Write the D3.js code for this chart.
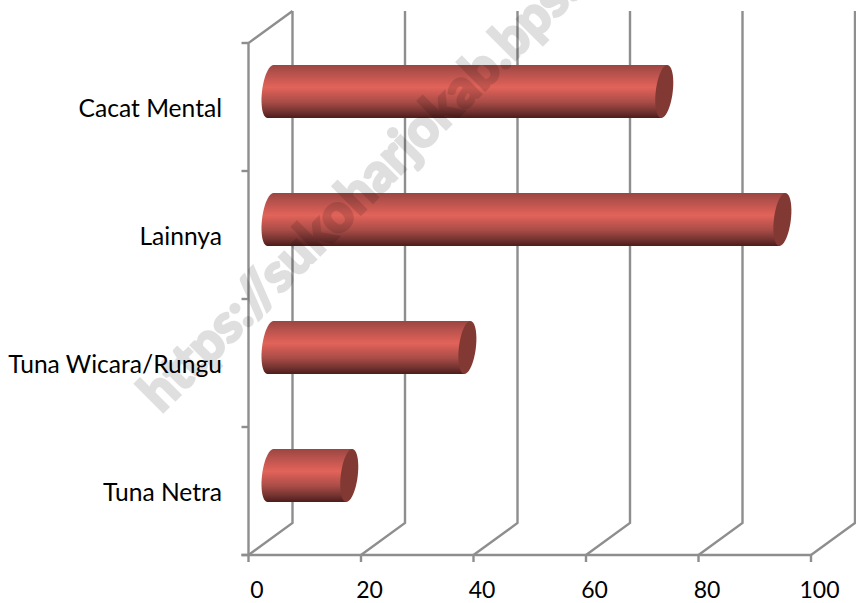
<!DOCTYPE html>
<html>
<head>
<meta charset="utf-8">
<script src="https://cdn.jsdelivr.net/npm/d3@7"></script>
<style>
    html, body { margin: 0; padding: 0; background: #fff; }
    svg { display: block; }
    text { font-family: Lato, "Open Sans", sans-serif; fill: #000; }
</style>
</head>
<body>
<div id="chart"></div>
<script>
const categories = ["Cacat Mental", "Lainnya", "Tuna Wicara/Rungu", "Tuna Netra"];
const values = [70, 91, 35, 14];
const xTicks = [0, 20, 40, 60, 80, 100];
const watermark = "https://sukoharjokab.bps.go.id";

const width = 856;
const height = 603;

// floor offset of the 3D box
const depthX = 44;
const depthY = -32;

const x = d3.scaleLinear().domain([0, 100]).range([248.5, 811]);
const y = d3.scaleBand().domain(categories).range([43, 555]);

const svg = d3.select("#chart").append("svg")
    .attr("width", width)
    .attr("height", height);

const grad = svg.append("defs").append("linearGradient")
    .attr("id", "tube")
    .attr("x1", 0).attr("y1", 0).attr("x2", 0).attr("y2", 1);
grad.selectAll("stop")
    .data([[0, "#9c4540"], [0.12, "#b04f4a"], [0.42, "#e2635a"], [0.7, "#a94c47"], [0.88, "#733230"], [1, "#4c1d1b"]])
    .enter().append("stop")
    .attr("offset", d => d[0])
    .attr("stop-color", d => d[1]);

// grid: back wall lines + floor lines
const grid = svg.append("g")
    .attr("stroke", "#8e8e8e")
    .attr("stroke-width", 2.4)
    .attr("fill", "none");

grid.selectAll(".wall")
    .data(xTicks)
    .enter().append("path")
    .attr("class", "wall")
    .attr("d", d => `M${x(d)},${y.range()[1]}L${x(d) + depthX},${y.range()[1] + depthY}V${y.range()[0] + depthY}`);

// side wall and front axes
grid.append("path")
    .attr("d", `M${x(0)},${y.range()[1]}V${y.range()[0]}L${x(0) + depthX},${y.range()[0] + depthY}`);
grid.append("path")
    .attr("d", `M${x(0) - 7},${y.range()[1]}H${x(100)}`);

const yEdges = categories.map(c => y(c)).concat(y.range()[1]);
grid.selectAll(".ytick")
    .data(yEdges)
    .enter().append("line")
    .attr("class", "ytick")
    .attr("x1", x(0) - 7).attr("x2", x(0))
    .attr("y1", d => d).attr("y2", d => d);
grid.selectAll(".xtick")
    .data(xTicks)
    .enter().append("line")
    .attr("class", "xtick")
    .attr("x1", d => x(d)).attr("x2", d => x(d))
    .attr("y1", y.range()[1]).attr("y2", y.range()[1] + 7);

// bars
const barH = 53;
const rx = 8.5;
const shear = 3;
const barShiftX = depthX / 2;
const barShiftY = depthY / 2 + 0.5;

function ellipsePoints(cx, cy) {
    return d3.range(0, 2 * Math.PI, Math.PI / 24).map(t => [
        cx + rx * Math.cos(t) - shear * Math.sin(t),
        cy + (barH / 2) * Math.sin(t)
    ]);
}

const bars = svg.selectAll(".bar")
    .data(categories.map((c, i) => ({ c, v: values[i] })))
    .enter().append("g")
    .attr("class", "bar");

bars.append("path")
    .attr("fill", "url(#tube)")
    .attr("d", d => {
        const cy = y(d.c) + y.bandwidth() / 2 + barShiftY;
        const x0 = x(0) + barShiftX;
        const x1 = x(d.v) + barShiftX;
        // left half of the start ellipse, then along the bottom and back over the top
        const left = d3.range(Math.PI / 2, 3 * Math.PI / 2 + 0.01, Math.PI / 24).map(t => [
            x0 + rx * Math.cos(t) - shear * Math.sin(t),
            cy + (barH / 2) * Math.sin(t)
        ]);
        return d3.line()(left) + `L${x1 + shear},${cy - barH / 2}L${x1 - shear},${cy + barH / 2}Z`;
    });

bars.append("path")
    .attr("fill", "#823833")
    .attr("d", d => {
        const cy = y(d.c) + y.bandwidth() / 2 + barShiftY;
        return d3.line().curve(d3.curveLinearClosed)(ellipsePoints(x(d.v) + barShiftX, cy));
    });

// labels
svg.selectAll(".cat")
    .data(categories)
    .enter().append("text")
    .attr("class", "cat")
    .attr("x", 222)
    .attr("y", d => y(d) + y.bandwidth() / 2 + 10)
    .attr("text-anchor", "end")
    .attr("font-size", 24.6)
    .text(d => d);

svg.selectAll(".xlab")
    .data(xTicks)
    .enter().append("text")
    .attr("class", "xlab")
    .attr("x", d => x(d) + 8.5)
    .attr("y", 598)
    .attr("text-anchor", "middle")
    .attr("font-size", 23)
    .text(d => d);

// watermark sits over everything
svg.append("text")
    .attr("transform", "translate(161,414) rotate(-45)")
    .attr("font-size", 53)
    .attr("font-weight", "bold")
    .attr("opacity", 0.12)
    .style("fill", "#000")
    .style("stroke", "#000")
    .style("stroke-width", 3)
    .text(watermark);
</script>
</body>
</html>
